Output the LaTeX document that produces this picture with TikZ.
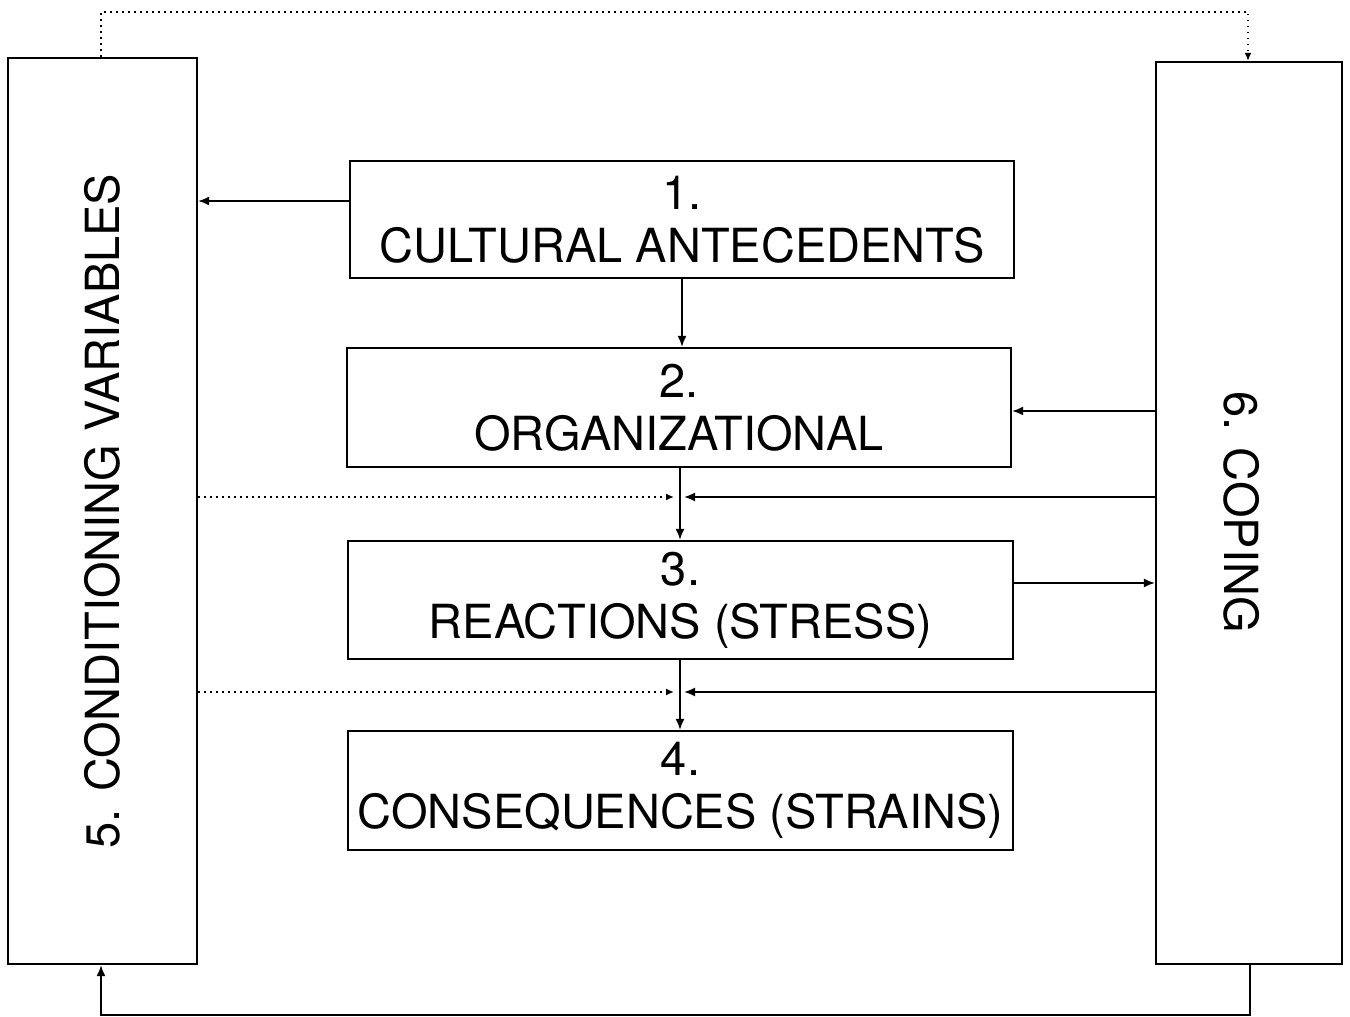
\documentclass[tikz,border=0pt]{standalone}
\usepackage{fontspec}
\setmainfont{TeX Gyre Heros}
\usetikzlibrary{arrows.meta}

\tikzset{
  box/.style={draw, line width=2.2pt, inner sep=0pt, align=center,
    font=\fontsize{47}{53}\selectfont},
  flow/.style={line width=1.8pt, -{Latex[length=11pt,width=9pt]}},
  feed/.style={line width=1.6pt, dash pattern=on 1.4pt off 4.6pt,
    -{Latex[length=8pt,width=7pt]}},
  side/.style={font=\fontsize{47}{53}\selectfont}
}

\begin{document}
\begin{tikzpicture}[x=1pt,y=1pt]
  \useasboundingbox (0,0) rectangle (1350,1017);

  % outer boxes
  \node[box, minimum width=189pt, minimum height=906pt] (cond) at (102.5,506) {};
  \node[box, minimum width=186pt, minimum height=902pt] (coping) at (1249,504) {};
  \node[side, rotate=90] (condtxt) at (cond.center) {5. CONDITIONING VARIABLES};
  \node[side, rotate=-90] (copingtxt) at (1242,505) {6. COPING};

  % middle column
  \node[box, minimum width=664pt, minimum height=117pt] (cult) at (682,797.5) {1.\\CULTURAL ANTECEDENTS};
  \node[box, minimum width=664pt, minimum height=119pt] (org) at (679,609.5) {2.\\ORGANIZATIONAL};
  \node[box, minimum width=665pt, minimum height=118pt] (react) at (680.5,417) {3.\\REACTIONS (STRESS)};
  \node[box, minimum width=665pt, minimum height=119pt] (conseq) at (680.5,226.5) {4.\\CONSEQUENCES (STRAINS)};

  \coordinate (j1) at (680,520);
  \coordinate (j2) at (680,325);
  \coordinate (top) at (101,1005);
  \coordinate (bot) at (101,2);
  \coordinate (cultout) at ([yshift=18.5pt]cult.west);
  \coordinate (reactout) at ([yshift=17pt]react.east);
  \coordinate (orgin) at ([yshift=-3.5pt]org.east);

  % down the column
  \draw[flow] (cult.south) -- (cult.south |- org.north);
  \draw[flow] (j1 |- org.south) -- (j1 |- react.north);
  \draw[flow] (j2 |- react.south) -- (j2 |- conseq.north);

  % sideways links
  \draw[flow] (cultout) -- (cond.east |- cultout);
  \draw[flow] (coping.west |- orgin) -- (orgin);
  \draw[flow] (reactout) -- (coping.west |- reactout);
  \draw[flow] (coping.west |- j1) -- ([xshift=4pt]j1);
  \draw[flow] (coping.west |- j2) -- ([xshift=4pt]j2);
  \draw[feed] (cond.east |- j1) -- ([xshift=-6pt]j1);
  \draw[feed] (cond.east |- j2) -- ([xshift=-6pt]j2);

  % loops round the outside
  \draw[flow] (1250,0 |- coping.south) -- (1250,2) -- (bot) -- (bot |- cond.south);
  \draw[feed] (top |- cond.north) -- (top) -- (1248,1005) -- (1248,0 |- coping.north);
\end{tikzpicture}
\end{document}
